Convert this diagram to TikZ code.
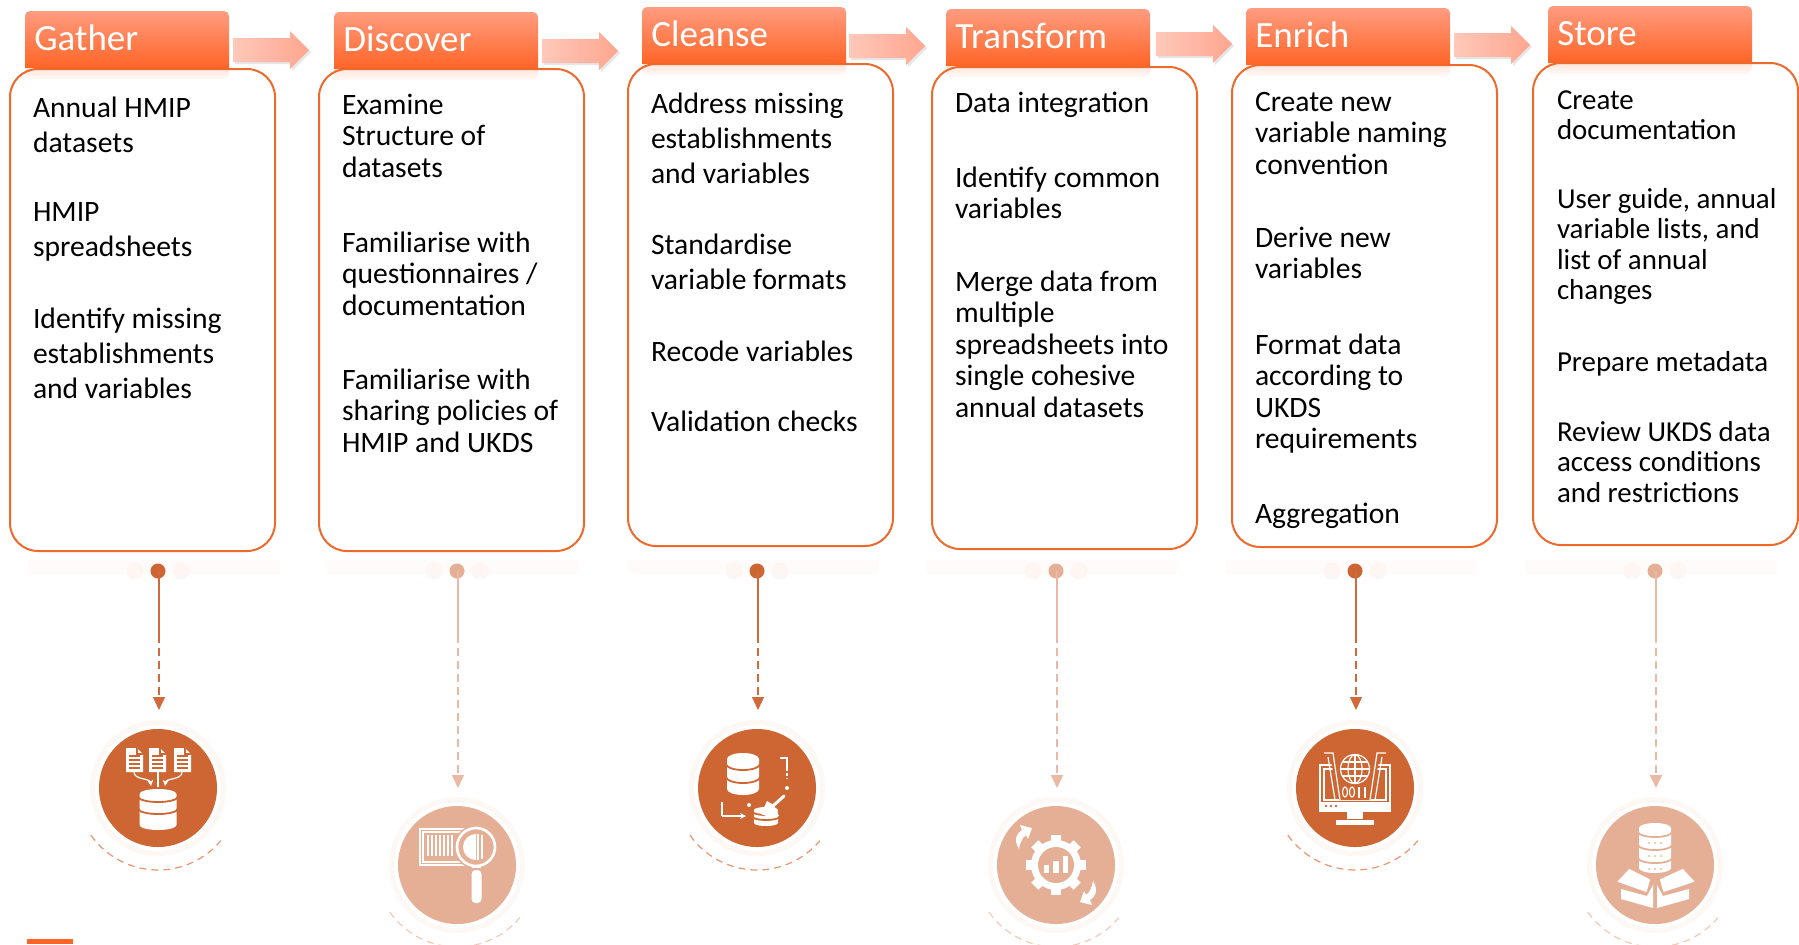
\documentclass[tikz,border=0pt]{standalone}
\usepackage{fontspec}
\setmainfont{Carlito}
\usetikzlibrary{arrows.meta}
\definecolor{cdark}{HTML}{CD6633}
\definecolor{cfade}{HTML}{E5AF96}
\definecolor{ldark}{HTML}{D2693C}
\definecolor{lfade}{HTML}{EBB9A3}
\definecolor{adark}{HTML}{E9946C}
\definecolor{afade}{HTML}{F2C9B6}
\definecolor{boxline}{HTML}{EC6A2C}
\definecolor{headtop}{HTML}{FF9C80}
\definecolor{headbot}{HTML}{FF6426}
\definecolor{arrowl}{HTML}{FFC8B9}
\definecolor{arrowr}{HTML}{FFA68F}
\definecolor{halo}{HTML}{FEF8F5}
\definecolor{faint}{HTML}{FEFBFA}
\definecolor{blob}{HTML}{FDF6F3}
\tikzset{
 x=.5pt,y=.5pt,
 boxnode/.style={draw=boxline,line width=1pt,fill=none,rounded corners=14pt,inner sep=0pt,outer sep=0pt,anchor=north west,minimum width=132.5pt,minimum height=241pt},
 headtext/.style={text=white,font=\fontsize{18.5}{20}\selectfont,inner sep=0pt,anchor=base west},
 para/.style={text=black,inner sep=0pt,outer sep=0pt,anchor=north west,align=left},
 dotnode/.style={circle,inner sep=0pt,minimum size=7.5pt},
 discnode/.style={circle,inner sep=0pt,minimum size=59pt},
 ic/.style={white,line width=.6pt},
 bgl/.style={draw=bg,line width=.6pt},
}
% header, its reflection and its text: name, x0, top, text
\newcommand\headerbar[4]{%
 \shade[top color=headtop,bottom color=headbot] (#2,-#3-57) [rounded corners=2.5pt] -- (#2,-#3) -- (#2+204,-#3) [sharp corners] -- (#2+204,-#3-57) -- cycle;
 \node (#1) [headtext] at (#2+9,-#3-39.5) {#4};
}
\newcommand\reflbar[2]{%
 \shade[top color=headbot!16,bottom color=headbot!4] (#1,-#2-57) -- (#1+204,-#2-57) [rounded corners=2.5pt] -- (#1+204,-#2-68) -- (#1,-#2-68) [sharp corners] -- cycle;
}
% block arrow: x0, centre y
\newcommand\blockarrow[2]{%
 \fill[black!12,opacity=.8] (#1+2,-#2+10) -- (#1+59,-#2+10) -- (#1+59,-#2+17) -- (#1+78,-#2-2) -- (#1+59,-#2-21) -- (#1+59,-#2-14) -- (#1+2,-#2-14) -- cycle;
 \shade[left color=arrowl,right color=arrowr] (#1,-#2+12) -- (#1+57,-#2+12) -- (#1+57,-#2+19) -- (#1+76,-#2) -- (#1+57,-#2-19) -- (#1+57,-#2-12) -- (#1,-#2-12) -- cycle;
}
% paragraph: name, x, baseline y, line skip(pt), lines
\newcommand\parag[5]{%
 \node (#1) [para,font=\fontsize{14.8}{#4}\selectfont] at (#2,-#3+20) {\rule{0pt}{11pt}#5};
}
% the same at the last column's slightly smaller size
\newcommand\paragsm[5]{%
 \node (#1) [para,font=\fontsize{14.45}{#4}\selectfont] at (#2,-#3+20) {\rule{0pt}{11pt}#5};
}
% lower part of one stage: n, x, circle y, tip y, line colour, disc colour, arc colour
\newcommand\stagecol[7]{%
 \fill[faint] (#2-130,-560) rectangle (#2+122,-574);
 \fill[blob] (#2-23,-571) circle (8.5);
 \fill[blob] (#2+23,-571) circle (8.5);
 \fill[halo] (#2,-#3) circle (68);
 \fill[white] (#2,-#3) circle (63);
 \draw[#7,line width=.6pt,dash pattern=on 3.5pt off 2.5pt] (#2,-#3)++(215:82) arc[start angle=215,end angle=320,radius=82];
 \node (d#1) [dotnode,fill=#6] at (#2,-571) {};
 \node (c#1) [discnode,fill=#6] at (#2,-#3) {};
 \coordinate (m#1) at (#2+1,-635);
 \coordinate (t#1) at (#2+1,-#4);
 \draw[#5,line width=.6pt] (d#1.center -| m#1) -- (m#1);
 \draw[#5,line width=.6pt,dash pattern=on 4pt off 2.5pt,-{Triangle[width=6pt,length=6.5pt]}] (m#1) -- (t#1);
}
% cylinder: cx, y of top ellipse, rx, ry, height, separators
\newcommand\cylinder[6]{%
 \fill[white] (#1-#3,#2) arc[start angle=180,end angle=0,x radius=#3,y radius=#4] -- (#1+#3,#2-#5) arc[start angle=0,end angle=-180,x radius=#3,y radius=#4] -- cycle;
 \foreach \s in {#6} \draw[bgl,line width=.9pt] (#1-#3-1,#2-\s) arc[start angle=180,end angle=360,x radius=#3+1,y radius=#4];
}
\newcommand\docicon[1]{%
 \fill[white] (#1,16) -- (#1,40) -- (#1+11,40) -- (#1+17,34) -- (#1+17,16) -- cycle;
 \draw[bgl] (#1+11,40) -- (#1+11,34) -- (#1+17,34);
 \foreach \yy in {32,28,24,20} \draw[bgl] (#1+3,\yy) -- (#1+14,\yy);
}
\newcommand\turnarrow{%
 \fill[white] (-37,16) .. controls (-43,26) and (-39,32) .. (-34,35) -- (-36,40) -- (-24,37) -- (-28,26) -- (-30,30) .. controls (-34,27) and (-36,22) .. (-37,16) -- cycle;
}
\begin{document}
\begin{tikzpicture}
\clip (0,0) rectangle (1799,-944);
\fill[white] (0,0) rectangle (1799,-944);
% block arrows
\blockarrow{233}{50}
\blockarrow{542}{51}
\blockarrow{849}{46}
\blockarrow{1156}{44}
\blockarrow{1454}{45}
% white box bodies
\foreach \xx/\yy in {10/69,319/69,628/64,932/67,1232/65,1533/63}
  \fill[white,rounded corners=14pt] (\xx,-\yy) rectangle (\xx+265,-\yy-482);
% headers
\headerbar{h1}{25}{11}{Gather}
\headerbar{h2}{334}{12}{Discover}
\headerbar{h3}{642}{7}{Cleanse}
\headerbar{h4}{946}{9}{Transform}
\headerbar{h5}{1246}{8}{Enrich}
\headerbar{h6}{1548}{6}{Store}
\reflbar{25}{11}
\reflbar{334}{12}
\reflbar{642}{7}
\reflbar{946}{9}
\reflbar{1246}{8}
\reflbar{1548}{6}
% box outlines
\node (b1) [boxnode] at (10,-69) {};
\node (b2) [boxnode] at (319,-69) {};
\node (b3) [boxnode] at (628,-64) {};
\node (b4) [boxnode] at (932,-67) {};
\node (b5) [boxnode] at (1232,-65) {};
\node (b6) [boxnode] at (1533,-63) {};
% texts
\parag{p11}{33}{115}{17.5}{Annual HMIP\\datasets}
\parag{p12}{33}{219}{17.5}{HMIP\\spreadsheets}
\parag{p13}{33}{326}{17.5}{Identify missing\\establishments\\and variables}
\parag{p21}{342}{112}{15.8}{Examine\\Structure of\\datasets}
\parag{p22}{342}{250}{15.8}{Familiarise with\\questionnaires /\\documentation}
\parag{p23}{342}{387}{15.8}{Familiarise with\\sharing policies of\\HMIP and UKDS}
\parag{p31}{651}{111}{17.7}{Address missing\\establishments\\and variables}
\parag{p32}{651}{252}{17.7}{Standardise\\variable formats}
\parag{p33}{651}{359}{17.7}{Recode variables}
\parag{p34}{651}{429}{17.7}{Validation checks}
\parag{p41}{955}{110}{15.8}{Data integration}
\parag{p42}{955}{185}{15.8}{Identify common\\variables}
\parag{p43}{955}{289}{15.8}{Merge data from\\multiple\\spreadsheets into\\single cohesive\\annual datasets}
\parag{p51}{1255}{109}{15.8}{Create new\\variable naming\\convention}
\parag{p52}{1255}{245}{15.8}{Derive new\\variables}
\parag{p53}{1255}{352}{15.8}{Format data\\according to\\UKDS\\requirements}
\parag{p54}{1255}{521}{15.8}{Aggregation}
\paragsm{p61}{1557}{107}{15.3}{Create\\documentation}
\paragsm{p62}{1557}{206}{15.3}{User guide, annual\\variable lists, and\\list of annual\\changes}
\paragsm{p63}{1557}{369}{15.3}{Prepare metadata}
\paragsm{p64}{1557}{439}{15.3}{Review UKDS data\\access conditions\\and restrictions}
% stages
\stagecol{1}{158}{788}{710}{ldark}{cdark}{adark}
\stagecol{2}{457}{865}{788}{lfade}{cfade}{afade}
\stagecol{3}{757}{788}{710}{ldark}{cdark}{adark}
\stagecol{4}{1056}{865}{788}{lfade}{cfade}{afade}
\stagecol{5}{1355}{788}{710}{ldark}{cdark}{adark}
\stagecol{6}{1655}{865}{788}{lfade}{cfade}{afade}
% icon 1: documents into database
\colorlet{bg}{cdark}
\begin{scope}[shift={(158,-788)}]
 \docicon{-32}\docicon{-9}\docicon{16}
 \cylinder{0}{-6}{18.5}{5}{31}{3,15}
 \draw[ic,-{Stealth[length=3pt,width=3pt]}] (-24,16) .. controls (-24,8) and (-8,10) .. (-7,2);
 \draw[ic] (0,16) -- (0,1);
 \draw[ic,-{Stealth[length=3pt,width=3pt]}] (24,16) .. controls (24,8) and (8,10) .. (7,2);
\end{scope}
% icon 2: barcode and magnifier
\colorlet{bg}{cfade}
\begin{scope}[shift={(457,-865)}]
 \draw[ic] (-37,36) rectangle (7,0);
 \draw[ic] (-34,33) rectangle (7,3);
 \foreach \xx in {-30,-26,-22,-18,-14,-10,-6} \fill[white] (\xx,30) rectangle (\xx+2.2,9);
 \fill[bg] (19,18) circle (22);
 \draw[white,line width=1.3pt] (19,18) circle (19);
 \fill[white] (19,31) arc[start angle=90,end angle=270,radius=13] -- cycle;
 \fill[white] (20,31) rectangle (22,5);
 \fill[white] (24,30) rectangle (26,6);
 \fill[white] (15,-3) rectangle (24,-1);
 \fill[white,rounded corners=2pt] (14.5,-5) rectangle (24.5,-38);
\end{scope}
% icon 3: database cleaning
\colorlet{bg}{cdark}
\begin{scope}[shift={(757,-788)}]
 \cylinder{-14}{29}{16}{6}{30}{5,18}
 \draw[ic] (23,30) -- (30,30) -- (30,20);
 \draw[ic,dash pattern=on 1.5pt off 1pt] (30,20) -- (30,9);
 \fill[white] (30,0) circle (2);
 \fill[white] (-8,-17) circle (2);
 \draw[ic] (-35,-14) -- (-35,-28);
 \draw[ic,-{Stealth[length=3pt,width=3pt]}] (-35,-28) -- (-11,-28);
 \cylinder{9}{-22}{12}{3}{13}{2,7}
 \fill[white] (4,-26) -- (10,-13) -- (17,-17) -- (22,-28) -- (12,-29) -- cycle;
 \draw[white,line width=1.5pt,line cap=round] (17,-17) -- (27,-8);
\end{scope}
% icon 4: gear and arrows
\colorlet{bg}{cfade}
\begin{scope}[shift={(1056,-865)}]
 \foreach \a in {0,45,...,315} \fill[white,rotate=\a] (-5,20) rectangle (5,30);
 \fill[white] (0,0) circle (25);
 \fill[bg] (0,0) circle (18);
 \fill[white] (-12,-8) rectangle (-7,0);
 \fill[white] (-3,-8) rectangle (3,4);
 \fill[white] (7,-8) rectangle (12,9);
 \turnarrow
 \begin{scope}[rotate=180]\turnarrow\end{scope}
\end{scope}
% icon 5: monitor, globe and data
\colorlet{bg}{cdark}
\begin{scope}[shift={(1355,-788)}]
 \draw[ic] (-35,23) rectangle (35,-23);
 \draw[ic] (-31,19) rectangle (31,-12);
 \fill[white] (-35,-14) rectangle (35,-23);
 \foreach \xx in {-29,-24,-19} \fill[bg] (\xx,-18) circle (1.3);
 \fill[white] (-8,-23) rectangle (8,-31);
 \fill[white] (-19,-32) rectangle (19,-37);
 \fill[bg] (-26,36) -- (-16,-12) -- (16,-12) -- (26,36) -- cycle;
 \draw[ic] (-31,35) -- (-22,35) -- (-15,-12);
 \draw[ic] (-27,31) -- (-20,-12);
 \draw[ic] (31,35) -- (22,35) -- (15,-12);
 \draw[ic] (27,31) -- (20,-12);
 \fill[bg] (0,19) circle (16);
 \draw[ic] (0,19) circle (14.5);
 \draw[ic] (0,19) ellipse (7 and 14.5);
 \draw[ic] (0,4.5) -- (0,33.5);
 \draw[ic] (-14.5,19) -- (14.5,19);
 \draw[ic] (-12.5,26) -- (12.5,26);
 \draw[ic] (-12.5,12) -- (12.5,12);
 \draw[ic] (-10,-4) ellipse (2.5 and 5);
 \draw[ic] (-3,-4) ellipse (2.5 and 5);
 \fill[white] (3,-10) rectangle (5,1);
 \fill[white] (9,-10) rectangle (11,1);
\end{scope}
% icon 6: database in a box
\colorlet{bg}{cfade}
\begin{scope}[shift={(1655,-865)}]
 \cylinder{0}{37}{16}{5}{40}{4,17,30}
 \foreach \yy in {22,9,-4} \foreach \xx in {-6,0,6} \fill[bg] (\xx,\yy) circle (1);
 \fill[white,draw=bg,line width=.6pt] (-39,-17) -- (-26,-3) -- (-4,-14) -- (-8,-28) -- cycle;
 \fill[white,draw=bg,line width=.6pt] (41,-17) -- (28,-3) -- (4,-14) -- (8,-28) -- cycle;
 \fill[white] (-34,-24) -- (-8,-31) -- (-2,-20) -- (-2,-43) -- (-34,-34) -- cycle;
 \fill[white] (34,-24) -- (8,-31) -- (2,-20) -- (2,-43) -- (34,-34) -- cycle;
\end{scope}
% bottom mark
\fill[headbot] (27,-939) rectangle (73,-944);
\end{tikzpicture}
\end{document}
